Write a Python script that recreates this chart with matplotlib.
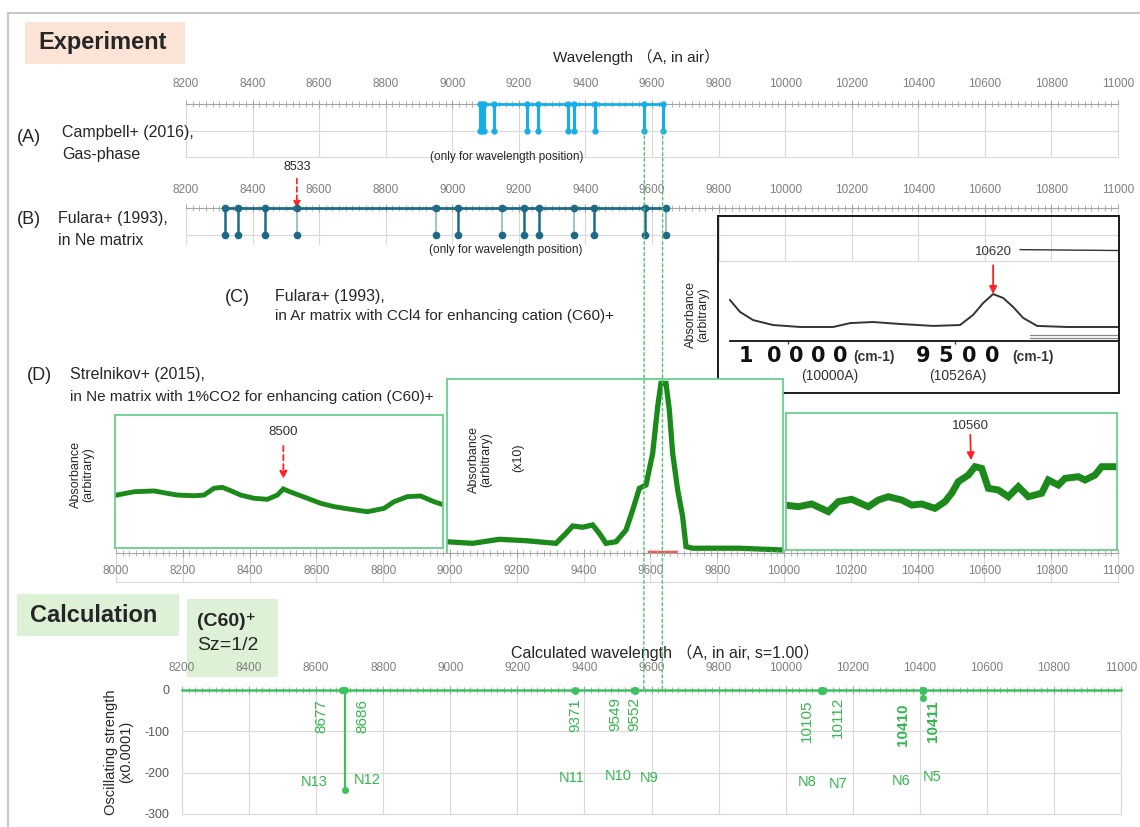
import matplotlib
matplotlib.use('Agg')
import matplotlib.pyplot as plt
from matplotlib.patches import Rectangle, ConnectionPatch
from matplotlib.lines import Line2D
from matplotlib.ticker import MultipleLocator

plt.rcParams['font.family'] = ['Liberation Sans', 'Noto Sans CJK JP', 'DejaVu Sans']
plt.rcParams['axes.unicode_minus'] = False

W, H = 1140, 827

# ---------------------------------------------------------------- data
# (A) Campbell+ (2016) gas-phase band positions (A)
campbell_wl = [9083.9, 9089.0, 9094.0, 9126.3, 9225.9, 9258.3, 9348.4, 9365.9, 9428.5, 9577.0, 9632.1]
# (B) Fulara+ (1993) Ne matrix band positions (A)
fulara_ne_wl = [8316, 8357, 8438, 8533, 8950, 9017, 9150, 9215, 9260, 9367, 9426, 9578, 9641]
fulara_ne_faint = [8533, 8950, 9150, 9367, 9641]

# (C) Fulara+ (1993) Ar matrix spectrum, wavenumber (cm-1) vs absorbance (arb.)
ar_k = [10174, 10144, 10105, 10045, 9964, 9865, 9814, 9746, 9665, 9566, 9485, 9446,
        9416, 9386, 9356, 9326, 9296, 9254, 9165, 9009]
ar_abs = [0.525, 0.458, 0.412, 0.384, 0.373, 0.373, 0.395, 0.401, 0.390, 0.379, 0.384, 0.441,
          0.508, 0.559, 0.537, 0.486, 0.424, 0.379, 0.373, 0.373]
ar_k2 = [9305, 9009]
ar_abs2 = [0.810, 0.805]
ar_k3 = [9275, 9009]
ar_abs3a = [0.328, 0.328]
ar_abs3b = [0.311, 0.311]

# (D) Strelnikov+ (2015) Ne matrix spectrum, three segments
strel1_wl = [8000, 8052, 8112, 8152, 8182, 8232, 8262, 8292, 8317, 8342, 8372, 8412, 8452, 8482,
             8500, 8512, 8532, 8572, 8612, 8652, 8702, 8752, 8802, 8832, 8872, 8912, 8952, 8982]
strel1_abs = [0.398, 0.423, 0.429, 0.411, 0.398, 0.393, 0.398, 0.449, 0.456, 0.431, 0.398, 0.374,
              0.366, 0.398, 0.444, 0.431, 0.411, 0.374, 0.336, 0.311, 0.291, 0.273, 0.298, 0.348,
              0.386, 0.391, 0.348, 0.323]
strel2_wl = [8991, 9068, 9148, 9228, 9318, 9348, 9368, 9398, 9428, 9448, 9468, 9498, 9528, 9548,
             9568, 9588, 9608, 9623, 9633, 9648, 9658, 9668, 9683, 9698, 9708, 9728, 9868, 9998]
strel2_abs = [0.070, 0.061, 0.084, 0.076, 0.061, 0.118, 0.160, 0.153, 0.166, 0.118, 0.061, 0.070,
              0.137, 0.251, 0.375, 0.394, 0.575, 0.842, 0.975, 0.975, 0.823, 0.575, 0.366, 0.213,
              0.042, 0.033, 0.033, 0.023]
strel3_wl = [10005, 10045, 10085, 10135, 10165, 10205, 10255, 10285, 10315, 10355, 10385, 10415,
             10455, 10485, 10505, 10525, 10555, 10575, 10595, 10615, 10645, 10675, 10705, 10735,
             10775, 10795, 10825, 10845, 10885, 10905, 10935, 10955, 10995]
strel3_abs = [0.328, 0.316, 0.336, 0.280, 0.353, 0.370, 0.316, 0.365, 0.389, 0.365, 0.328, 0.336,
              0.304, 0.353, 0.414, 0.499, 0.547, 0.608, 0.596, 0.450, 0.438, 0.389, 0.462, 0.389,
              0.414, 0.511, 0.474, 0.523, 0.535, 0.511, 0.547, 0.608, 0.608]

# Calculation: (C60)+ Sz=1/2, oscillating strength (x0.0001, plotted negative)
calc_names = ['N13', 'N12', 'N11', 'N10', 'N9', 'N8', 'N7', 'N6', 'N5']
calc_wl = [8677, 8686, 9371, 9549, 9552, 10105, 10112, 10410, 10411]
calc_f = [-1, -242, -2, -1, -2, -3, -3, -2, -20]

# ---------------------------------------------------------------- layout helpers
value_dx = [-21, 17, 1, -19, -1, -14, 15, -20, 10]     # px
value_dy = [9, 9, 8, 7, 7, 10, 7, 13, 10]
value_bold = [False, False, False, False, False, False, False, True, True]
name_dx = [-28, 22, -3, -16, 14, -14, 15, -22, 9]
name_dy = [92, 90, 88, 86, 88, 92, 94, 91, 87]

TXT = '#262626'
TICK = '#a6a6a6'
TICKLAB = '#7f7f7f'
GRID = '#d9d9d9'
BLUE = '#14aee9'
TEAL = '#1d6a87'
GREEN = '#3cc15e'
GREEN_TXT = '#35b550'
SPEC = '#1b8a1b'
PANEL = '#6acf8d'
RED = '#ff2222'

fig = plt.figure(figsize=(W / 100, H / 100), dpi=100)


def fbox(x0, y0, x1, y1):
    return [x0 / W, 1 - y1 / H, (x1 - x0) / W, (y1 - y0) / H]


def ftext(x, y, s, **kw):
    kw.setdefault('va', 'center')
    kw.setdefault('color', TXT)
    return fig.text(x / W, 1 - y / H, s, **kw)


def frect(x0, y0, x1, y1, color, z=-1):
    fig.add_artist(Rectangle((x0 / W, 1 - y1 / H), (x1 - x0) / W, (y1 - y0) / H,
                             transform=fig.transFigure, facecolor=color, edgecolor='none', zorder=z))


def wl_axis(ax, pad):
    ax.set_xlim(8200, 11000)
    ax.xaxis.set_major_locator(MultipleLocator(200))
    ax.xaxis.set_minor_locator(MultipleLocator(20))
    ax.xaxis.tick_top()
    ax.tick_params(axis='x', which='both', direction='inout', colors=TICK,
                   labelcolor=TICKLAB, labelsize=8.5, pad=pad)
    ax.tick_params(axis='x', which='major', length=6, width=0.8)
    ax.tick_params(axis='x', which='minor', length=5, width=0.6)
    ax.grid(axis='x', which='major', color=GRID, lw=0.8)
    ax.grid(axis='y', color=GRID, lw=0.8)
    ax.tick_params(axis='y', length=0, labelleft=False)
    for s in ['left', 'right', 'bottom']:
        ax.spines[s].set_color(GRID)
        ax.spines[s].set_linewidth(0.8)
    ax.spines['top'].set_color(TICK)
    ax.spines['top'].set_linewidth(0.8)
    ax.set_axisbelow(True)
    ax.patch.set_alpha(0)


# ---------------------------------------------------------------- frame
fig.add_artist(Line2D([8 / W, 1], [1 - 13 / H] * 2, transform=fig.transFigure, color='#c8c8c8', lw=1.5))
fig.add_artist(Line2D([8 / W] * 2, [1 - 13 / H, 0], transform=fig.transFigure, color='#c8c8c8', lw=1.5))

frect(25, 22, 185, 64, '#fbe3d6')
ftext(38, 43, 'Experiment', fontsize=17, weight='bold')
ftext(636, 57, 'Wavelength （A, in air）', fontsize=11, ha='center')

# ---------------------------------------------------------------- (A)
ax_a = fig.add_axes(fbox(186, 104, 1118, 157))
wl_axis(ax_a, 6.8)
ax_a.set_ylim(-2, 0)
ax_a.set_yticks([-1])
ax_a.plot([min(campbell_wl), max(campbell_wl)], [0, 0], color=BLUE, lw=2, clip_on=False, zorder=3)
ax_a.vlines(campbell_wl, -1, 0, color=BLUE, lw=2.2, zorder=3)
ax_a.plot(campbell_wl, [0] * len(campbell_wl), 'o', color=BLUE, ms=3.5, clip_on=False, zorder=4)
ax_a.plot(campbell_wl, [-1] * len(campbell_wl), 'o', color=BLUE, ms=3.5, zorder=4)
ftext(17, 137, '(A)', fontsize=13)
ftext(62, 132, 'Campbell+ (2016),', fontsize=11.5)
ftext(62, 154, 'Gas-phase', fontsize=11.5)
ftext(507, 157, '(only for wavelength position)', fontsize=8.5, ha='center')

# ---------------------------------------------------------------- (B)
ax_b = fig.add_axes(fbox(186, 208, 1118, 261))
wl_axis(ax_b, 5.4)
ax_b.set_ylim(-2, 0)
ax_b.set_yticks([-1])
ax_b.plot([min(fulara_ne_wl), max(fulara_ne_wl)], [0, 0], color=TEAL, lw=2, clip_on=False, zorder=3)
for w in fulara_ne_wl:
    faint = w in fulara_ne_faint
    ax_b.vlines(w, -1, 0, color=TEAL, lw=1.5 if faint else 1.8, alpha=0.4 if faint else 1, zorder=3)
ax_b.plot(fulara_ne_wl, [0] * len(fulara_ne_wl), 'o', color=TEAL, ms=4.5, clip_on=False, zorder=4)
ax_b.plot(fulara_ne_wl, [-1] * len(fulara_ne_wl), 'o', color=TEAL, ms=4.5, zorder=4)
ax_b.annotate('8533', xy=(8533, 0), xytext=(0, 29.5), textcoords='offset points',
              ha='center', va='center', fontsize=9, color=TXT, annotation_clip=False,
              arrowprops=dict(arrowstyle='-|>', color=RED, lw=1.2, linestyle=(0, (3, 2)),
                              mutation_scale=10, shrinkA=2, shrinkB=0))
ftext(17, 220, '(B)', fontsize=13)
ftext(58, 219, 'Fulara+ (1993),', fontsize=11.5)
ftext(58, 241, 'in Ne matrix', fontsize=11.5)
frect(10, 245, 717, 264, 'white', z=5)
ftext(506, 250, '(only for wavelength position)', fontsize=8.5, ha='center', zorder=6)

# ---------------------------------------------------------------- (C)
ftext(225, 297, '(C)', fontsize=13)
ftext(275, 296, 'Fulara+ (1993),', fontsize=11.5)
ftext(275, 316, 'in Ar matrix with CCl4 for enhancing cation (C60)+', fontsize=11)
ftext(697, 315, 'Absorbance\n(arbitrary)', fontsize=9, rotation=90, ha='center', linespacing=1.1)

ax_c = fig.add_axes(fbox(718, 216, 1119, 393))
ax_c.set_facecolor('none')
ax_c.set_xlim(10210, 9009)
ax_c.set_ylim(0, 1)
ax_c.set_xticks([])
ax_c.set_yticks([])
for s in ax_c.spines.values():
    s.set_color('#1a1a1a')
    s.set_linewidth(1.4)
ax_c.plot(ar_k, ar_abs, color='#333333', lw=1.4)
ax_c.plot(ar_k2, ar_abs2, color='#333333', lw=1)
ax_c.plot(ar_k3, ar_abs3a, color='#888888', lw=0.9)
ax_c.plot(ar_k3, ar_abs3b, color='#888888', lw=0.9)
ax_c.plot([ar_k[0], 9009], [0.294, 0.294], color='#111111', lw=1.3)
ax_c.vlines([10000, 9500], 0.278, 0.294, color='#444444', lw=1)
ax_c.annotate('10620', xy=(9386, 0.559), xytext=(9386, 0.795), ha='center', va='center',
              fontsize=9.5, color='#333333',
              arrowprops=dict(arrowstyle='-|>', color=RED, lw=1.3, mutation_scale=11,
                              shrinkA=3, shrinkB=0))
for i, ch in enumerate('10000'):
    ftext([746, 774, 796, 818, 840][i], 356, ch, fontsize=15, weight='heavy', ha='center',
          family='DejaVu Sans', color='#111111')
ftext(853, 357, '(cm-1)', fontsize=10, weight='bold', color='#333333')
for i, ch in enumerate('9500'):
    ftext([923, 946, 969, 992][i], 356, ch, fontsize=15, weight='heavy', ha='center',
          family='DejaVu Sans', color='#111111')
ftext(1012, 357, '(cm-1)', fontsize=10, weight='bold', color='#333333')
ftext(830, 376, '(10000A)', fontsize=10, ha='center', color='#333333')
ftext(958, 376, '(10526A)', fontsize=10, ha='center', color='#333333')

# ---------------------------------------------------------------- (D)
ftext(27, 375, '(D)', fontsize=13)
ftext(70, 375, 'Strelnikov+ (2015),', fontsize=11.5)
ftext(70, 397, 'in Ne matrix with 1%CO2 for enhancing cation (C60)+', fontsize=11)


def spec_panel(x0, y0, x1, y1, wl, ab, lw):
    ax = fig.add_axes(fbox(x0, y0, x1, y1))
    ax.set_xlim(7650 + 3 * x0, 7650 + 3 * x1)
    ax.set_ylim(0, 1)
    ax.set_xticks([])
    ax.set_yticks([])
    for s in ax.spines.values():
        s.set_color(PANEL)
        s.set_linewidth(1.3)
    ax.plot(wl, ab, color=SPEC, lw=lw, solid_joinstyle='miter')
    return ax


ax_d1 = spec_panel(115, 415, 443, 548, strel1_wl, strel1_abs, 3.5)
ax_d1.annotate('8500', xy=(8500, 0.52), xytext=(8500, 0.875), ha='center', va='center',
               fontsize=9.5, color='#333333',
               arrowprops=dict(arrowstyle='-|>', color=RED, lw=1.3, linestyle=(0, (3, 2)),
                               mutation_scale=11, shrinkA=4, shrinkB=0))
ftext(82, 475, 'Absorbance\n(arbitrary)', fontsize=9, rotation=90, ha='center', linespacing=1.1)

ax_d2 = spec_panel(447, 379, 783, 554, strel2_wl, strel2_abs, 3.8)
ax_d2.plot([9598, 9679], [0.012, 0.012], color=RED, lw=2.5, alpha=0.8)
ftext(480, 460, 'Absorbance\n(arbitrary)', fontsize=9, rotation=90, ha='center', linespacing=1.1)
ftext(518, 458, '(x10)', fontsize=9, rotation=90, ha='center')

ax_d3 = spec_panel(786, 413, 1117, 550, strel3_wl, strel3_abs, 5)
ax_d3.annotate('10560', xy=(10563, 0.655), xytext=(10560, 0.905), ha='center', va='center',
               fontsize=9.5, color='#333333',
               arrowprops=dict(arrowstyle='-|>', color=RED, lw=1.3, mutation_scale=11,
                               shrinkA=0, shrinkB=0))

ax_dx = fig.add_axes(fbox(116, 553, 1118, 582))
ax_dx.set_xlim(8000, 11000)
ax_dx.set_ylim(0, 1)
ax_dx.xaxis.set_major_locator(MultipleLocator(200))
ax_dx.xaxis.set_minor_locator(MultipleLocator(20))
ax_dx.xaxis.tick_top()
ax_dx.tick_params(axis='x', which='both', direction='inout', colors=TICK, labeltop=False)
ax_dx.tick_params(axis='x', which='major', length=6, width=0.8)
ax_dx.tick_params(axis='x', which='minor', length=5, width=0.6)
ax_dx.set_yticks([])
ax_dx.grid(axis='x', which='major', color=GRID, lw=0.8)
for s in ['left', 'right', 'bottom']:
    ax_dx.spines[s].set_color(GRID)
ax_dx.spines['top'].set_color(TICK)
ax_dx.spines['top'].set_linewidth(0.8)
for t in range(8000, 11001, 200):
    ax_dx.text(t, 0.38, str(t), ha='center', va='center', fontsize=8.5, color=TICKLAB)

# ---------------------------------------------------------------- Calculation
frect(17, 594, 179, 636, '#dcf1d5')
ftext(30, 616, 'Calculation', fontsize=17, weight='bold')
frect(187, 599, 278, 677, '#dcf1d5')
ftext(197, 622, '(C60)⁺', fontsize=14, weight='bold')
ftext(197, 646, 'Sz=1/2', fontsize=14)
ftext(665, 653, 'Calculated wavelength （A, in air, s=1.00）', fontsize=11.5, ha='center')

ax_e = fig.add_axes(fbox(182, 690, 1121, 814))
wl_axis(ax_e, 8.3)
ax_e.set_ylim(-300, 0)
ax_e.set_yticks([-300, -200, -100, 0])
ax_e.tick_params(axis='y', length=0, labelleft=True, labelsize=9, labelcolor='#595959', pad=9)
ax_e.spines['top'].set_color(GREEN)
ax_e.spines['top'].set_linewidth(1.8)
ax_e.set_ylabel('Oscillating strength\n(x0.0001)', fontsize=10.5, color=TXT, labelpad=8, linespacing=1.1)
ax_e.vlines(calc_wl, calc_f, 0, color=GREEN, lw=1.6, zorder=3)
ax_e.plot(calc_wl, [0] * len(calc_wl), 'o', color=GREEN, ms=4, clip_on=False, zorder=4)
ax_e.plot(calc_wl, calc_f, 'o', color=GREEN, ms=4, zorder=4)
for i, w in enumerate(calc_wl):
    ax_e.annotate(str(w), xy=(w, 0), xytext=(value_dx[i], -value_dy[i]), textcoords='offset pixels',
                  rotation=90, ha='center', va='top', fontsize=11, color=GREEN_TXT,
                  weight='bold' if value_bold[i] else 'normal')
    ax_e.annotate(calc_names[i], xy=(w, 0), xytext=(name_dx[i], -name_dy[i]), textcoords='offset pixels',
                  ha='center', va='center', fontsize=10.5, color=GREEN_TXT)

# ---------------------------------------------------------------- guide lines
for w in [9577.0, 9632.1]:
    cp = ConnectionPatch(xyA=(w, -1), coordsA=ax_a.transData, xyB=(w, 0), coordsB=ax_e.transData,
                         color='#4cc46a', lw=1, linestyle=(0, (2, 2)), zorder=10)
    fig.add_artist(cp)

fig.savefig('out.png', dpi=100)
